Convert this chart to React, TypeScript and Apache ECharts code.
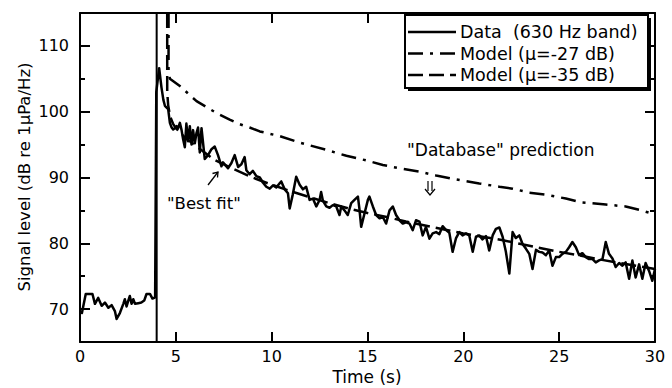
import React, { useEffect, useRef } from "react";
import * as echarts from "echarts";

// Measured data (630 Hz band)
const timeData = [
  0.0, 0.1, 0.3, 0.65, 0.78, 0.95, 1.13, 1.3, 1.48, 1.65, 1.82, 1.91, 2.08, 2.26, 2.34, 2.43, 2.52, 2.6, 2.69, 2.78,
  2.87, 3.04, 3.2, 3.35, 3.47, 3.65, 3.78, 3.92,
  3.98, 4.13, 4.25, 4.35, 4.43, 4.6, 4.69, 4.78, 4.86, 4.95, 5.03, 5.12, 5.21, 5.3, 5.38, 5.47, 5.55, 5.64, 5.73, 5.82,
  5.9, 5.99, 6.08, 6.16, 6.25, 6.34, 6.51, 6.68, 6.86, 7.03, 7.2, 7.38, 7.46, 7.55, 7.72, 7.9, 8.07, 8.25, 8.42, 8.59,
  8.68, 8.85, 9.02, 9.2, 9.38, 9.55, 9.72, 9.9, 10.07, 10.24, 10.41, 10.5, 10.68, 10.85, 10.94, 11.1, 11.28, 11.46,
  11.63, 11.8, 11.98, 12.15, 12.33, 12.5, 12.58, 12.67, 12.85, 13.02, 13.19, 13.37, 13.54, 13.63, 13.8, 13.97, 14.15,
  14.32, 14.5, 14.58, 14.67, 14.84, 15.02, 15.1, 15.28, 15.45, 15.63, 15.8, 15.97, 16.15, 16.32, 16.49, 16.67, 16.84,
  17.01, 17.19, 17.36, 17.53, 17.71, 17.88, 18.05, 18.23, 18.4, 18.58, 18.75, 18.92, 19.1, 19.27, 19.44, 19.62, 19.79,
  19.96, 20.14, 20.31, 20.49, 20.66, 20.83, 21.0, 21.18, 21.35, 21.53, 21.7, 21.88, 22.05, 22.22, 22.4, 22.57, 22.74,
  22.92, 23.09, 23.26, 23.44, 23.61, 23.79, 23.96, 24.13, 24.31, 24.48, 24.65, 24.83, 25.0, 25.17, 25.35, 25.52, 25.69,
  25.87, 26.04, 26.21, 26.39, 26.56, 26.74, 26.91, 27.08, 27.26, 27.43, 27.6, 27.78, 27.95, 28.13, 28.3, 28.47, 28.65,
  28.82, 28.99, 29.17, 29.34, 29.51, 29.69, 29.86, 30.0,
];
const levelData = [
  69.6, 69.4, 72.3, 72.3, 70.8, 71.7, 70.5, 71.0, 70.2, 70.6, 69.7, 68.5, 69.4, 70.8, 71.5, 70.4, 71.3, 72.0, 70.8, 71.5,
  70.8, 70.9, 71.0, 71.3, 72.3, 72.3, 71.6, 71.8,
  103.0, 106.6, 103.7, 101.8, 100.9, 100.4, 98.3, 97.6, 97.3, 97.5, 97.8, 97.5, 98.3, 97.2, 95.8, 94.6, 98.2, 95.5, 97.8, 95.0,
  97.2, 95.2, 96.8, 97.6, 93.8, 97.5, 92.8, 93.4, 94.3, 94.7, 93.4, 91.7, 92.3, 92.0, 91.4, 92.2, 93.4, 91.6, 92.0, 93.1,
  91.1, 90.5, 91.0, 90.2, 90.0, 89.2, 88.6, 88.3, 88.8, 88.5, 89.1, 89.4, 88.2, 87.6, 85.3, 87.4, 90.1, 88.9,
  88.2, 88.6, 86.6, 86.8, 85.6, 86.6, 87.8, 86.5, 85.6, 85.4, 85.8, 85.6, 84.3, 85.6, 85.0, 84.3, 86.1,
  86.6, 87.1, 85.2, 82.5, 84.5, 86.6, 87.1, 85.6, 84.3, 83.8, 84.0, 83.0, 85.0, 85.6, 84.3, 83.5, 83.0,
  83.2, 83.0, 82.0, 83.5, 83.3, 81.2, 82.5, 80.7, 81.5, 81.7, 81.4, 82.6, 82.0, 81.6, 78.7, 80.8, 81.7,
  81.2, 81.5, 81.2, 78.7, 81.0, 81.2, 80.6, 81.1, 78.9, 81.2, 82.2, 82.4, 81.0, 78.7, 75.4, 81.7, 80.8,
  81.2, 79.9, 79.2, 78.4, 76.1, 79.0, 78.7, 78.6, 78.2, 78.9, 76.6, 77.9, 77.9, 78.4, 78.7, 79.4, 80.2,
  79.4, 78.2, 78.5, 77.9, 77.6, 77.6, 77.1, 77.4, 77.6, 80.2, 78.4, 77.7, 76.4, 77.0, 76.6, 77.1, 74.6,
  77.4, 74.8, 76.8, 74.6, 77.0, 75.8, 74.3, 76.1,
];

// Model (mu = -27 dB), "Database" prediction
const model27Time = [
  4.62, 4.62, 4.69, 5.21, 6.08, 7.12, 7.81, 8.33, 8.85, 9.38, 10.4, 11.46, 12.85, 13.9, 14.93, 15.8, 16.67, 17.71,
  18.58, 19.62, 20.83, 21.88, 22.57, 23.44, 24.31, 25.35, 26.21, 27.43, 28.47, 29.17, 29.86, 30,
];
const model27Level = [
  115, 106.2, 105.0, 103.9, 101.6, 99.8, 98.8, 98.1, 97.6, 97.0, 96.3, 95.3, 94.2, 93.3, 92.6, 91.9, 91.4, 90.9,
  90.3, 89.7, 89.1, 88.6, 88.3, 87.7, 87.4, 86.8, 86.2, 85.9, 85.6, 85.1, 84.5, 84.4,
];

// Model (mu = -35 dB), "Best fit"
const model35Time = [
  4.55, 4.55, 4.6, 4.7, 4.85, 5.0, 5.5, 6, 7, 8, 9, 10, 11, 12, 13, 14, 15, 16, 17, 18, 19, 20, 21, 22, 23, 24, 25,
  26, 27, 28, 29, 30,
];
const model35Level = [
  115, 103, 101, 99.3, 98.2, 97.5, 96.0, 94.9, 92.7, 91.3, 90.0, 88.9, 87.9, 87.0, 86.1, 85.3, 84.6, 84.0, 83.3, 82.7,
  82.1, 81.5, 81.0, 80.5, 79.9, 79.3, 78.7, 78.2, 77.6, 77.1, 76.6, 76.1,
];

// Onset marker
const onsetTime = [4, 4];
const onsetLevel = [65, 115];

const yMajorTicks = [70, 80, 90, 100, 110];
const yMinorTicks = [75, 85, 95, 105];

const seriesNames = ["Data  (630 Hz band)", "Model (\u03bc=-27 dB)", "Model (\u03bc=-35 dB)"];

const FONT = '"DejaVu Sans", sans-serif';
const DASHDOT = [15, 7, 3, 7];
const DASHED = [15, 6];

const zip = (a: number[], b: number[]) => a.map((v, i) => [v, b[i]]);

export default function App() {
  const ref = useRef<HTMLDivElement>(null);
  useEffect(() => {
    if (!ref.current) return;
    const chart = echarts.init(ref.current, undefined, { renderer: "svg" });
    const axisLine = { show: true, lineStyle: { color: "#000", width: 2 } };
    const tickStyle = { color: "#000", width: 2 };
    const yBase = { type: "value", min: 65, max: 115, splitLine: { show: false } } as any;

    const legendRows = [
      { y: 32, dash: null as number[] | null, label: seriesNames[0] },
      { y: 53.5, dash: DASHDOT, label: seriesNames[1] },
      { y: 75, dash: DASHED, label: seriesNames[2] },
    ];
    const legendGraphics: any[] = [];
    legendRows.forEach((r) => {
      legendGraphics.push({
        type: "line", z: 10,
        shape: { x1: 408, y1: r.y, x2: 456, y2: r.y },
        style: { stroke: "#000", lineWidth: 2.5, lineDash: r.dash || undefined },
      });
      legendGraphics.push({
        type: "text", x: 460, y: r.y, z: 10,
        style: { text: r.label, font: `17.5px ${FONT}`, fill: "#000", textAlign: "left", textVerticalAlign: "middle" },
      });
    });

    chart.setOption({
      animation: false,
      backgroundColor: "#fff",
      grid: { left: 80, right: 17, top: 13, bottom: 46 },
      xAxis: [
        {
          type: "value", min: 0, max: 30, interval: 5, position: "bottom",
          axisLine, axisTick: { inside: true, length: 10, lineStyle: tickStyle },
          axisLabel: { fontSize: 16, color: "#000", margin: 6, fontFamily: FONT },
          splitLine: { show: false },
        },
        {
          type: "value", min: 0, max: 30, interval: 5, position: "top",
          axisLine, axisTick: { inside: true, length: 10, lineStyle: tickStyle },
          axisLabel: { show: false }, splitLine: { show: false },
        },
      ],
      yAxis: [
        {
          ...yBase, position: "left", axisLine,
          axisTick: { inside: true, length: 10, lineStyle: tickStyle, customValues: yMajorTicks },
          axisLabel: { fontSize: 16, color: "#000", margin: 11, fontFamily: FONT, customValues: yMajorTicks },
        },
        {
          ...yBase, position: "left", offset: 0, axisLine: { show: false },
          axisTick: { inside: true, length: 5, lineStyle: tickStyle, customValues: yMinorTicks },
          axisLabel: { show: false },
        },
        {
          ...yBase, position: "right", offset: 0, axisLine,
          axisTick: { inside: true, length: 10, lineStyle: tickStyle, customValues: yMajorTicks },
          axisLabel: { show: false },
        },
        {
          ...yBase, position: "right", offset: 0, axisLine: { show: false },
          axisTick: { inside: true, length: 5, lineStyle: tickStyle, customValues: yMinorTicks },
          axisLabel: { show: false },
        },
      ],
      graphic: [
        { type: "rect", z: 8, shape: { x: 408, y: 18, width: 243, height: 73 }, style: { fill: "#000" } },
        { type: "rect", z: 9, shape: { x: 405, y: 15, width: 243, height: 73 }, style: { fill: "#fff", stroke: "#000", lineWidth: 2 } },
        ...legendGraphics,
        { type: "text", x: 407, y: 150, z: 9, style: { text: '"Database" prediction', font: `17px ${FONT}`, fill: "#000", textAlign: "left", textVerticalAlign: "middle" } },
        // double-stem down arrow
        { type: "line", z: 9, shape: { x1: 428, y1: 181, x2: 428, y2: 191 }, style: { stroke: "#000", lineWidth: 1.2 } },
        { type: "line", z: 9, shape: { x1: 432, y1: 181, x2: 432, y2: 191 }, style: { stroke: "#000", lineWidth: 1.2 } },
        { type: "polyline", z: 9, shape: { points: [[425, 189], [430, 195], [435, 189]] }, style: { stroke: "#000", lineWidth: 1.2, fill: "none" } },
        { type: "text", x: 167, y: 203, z: 9, style: { text: '"Best fit"', font: `16.5px ${FONT}`, fill: "#000", textAlign: "left", textVerticalAlign: "middle" } },
        // small arrow pointing at best-fit curve
        { type: "line", z: 9, shape: { x1: 208, y1: 185, x2: 218, y2: 172 }, style: { stroke: "#000", lineWidth: 1.3 } },
        { type: "polyline", z: 9, shape: { points: [[212.5, 173.5], [218, 172], [217.5, 177.5]] }, style: { stroke: "#000", lineWidth: 1.3, fill: "none" } },
        { type: "text", x: 367, y: 377, z: 9, style: { text: "Time (s)", font: `17px ${FONT}`, fill: "#000", textAlign: "center", textVerticalAlign: "middle" } },
        { type: "text", x: 24, y: 177, rotation: Math.PI / 2, z: 9, style: { text: "Signal level (dB re 1\u03bcPa/Hz)", font: `16.5px ${FONT}`, fill: "#000", textAlign: "center", textVerticalAlign: "middle" } },
      ],
      series: [
        {
          name: seriesNames[1], type: "line", showSymbol: false, symbol: "none",
          data: zip(model27Time, model27Level),
          lineStyle: { color: "#000", width: 2.5, type: DASHDOT },
        },
        {
          name: seriesNames[2], type: "line", showSymbol: false, symbol: "none",
          data: zip(model35Time, model35Level),
          lineStyle: { color: "#000", width: 2.5, type: DASHED },
        },
        {
          name: "onset", type: "line", showSymbol: false, symbol: "none",
          data: zip(onsetTime, onsetLevel),
          lineStyle: { color: "#000", width: 2 },
        },
        {
          name: seriesNames[0], type: "line", showSymbol: false, symbol: "none",
          data: zip(timeData, levelData),
          lineStyle: { color: "#000", width: 2.5, join: "round" },
        },
      ],
    });
    return () => chart.dispose();
  }, []);
  return (
    <div
      ref={ref}
      style={{ position: "fixed", left: 0, top: 0, width: 672, height: 388, background: "#fff" }}
    />
  );
}
